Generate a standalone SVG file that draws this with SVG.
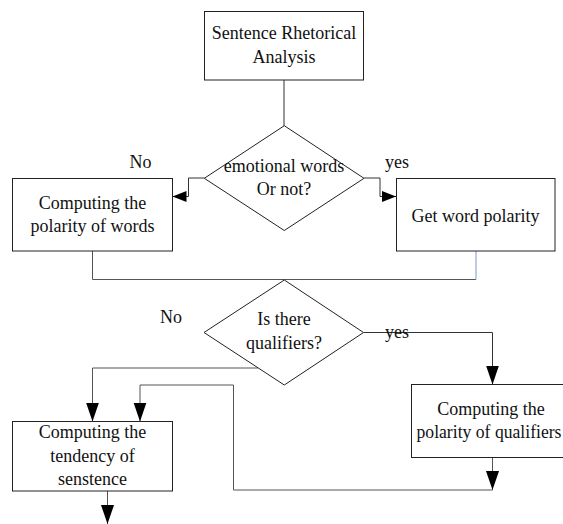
<svg xmlns="http://www.w3.org/2000/svg" width="563" height="524" viewBox="0 0 563 524">
<style>
.box{fill:#fff;stroke:#222;stroke-width:1}
.dia{fill:#fff;stroke:#222;stroke-width:1}
.ln{fill:none;stroke:#333;stroke-width:1}
.ln2{fill:none;stroke:#555;stroke-width:1}
.blue{fill:none;stroke:#7a9ad0;stroke-width:1}
text{font-family:"Liberation Serif","Times New Roman",serif;font-size:18px;fill:#111}
.c{text-anchor:middle}
</style>
<defs>
<marker id="av" markerUnits="userSpaceOnUse" markerWidth="20" markerHeight="14" refX="19" refY="6.5" orient="auto">
<path d="M0,0 L19,6.5 L0,13 z" fill="#000"/>
</marker>
<marker id="ah" markerUnits="userSpaceOnUse" markerWidth="15" markerHeight="12" refX="14" refY="5.5" orient="auto">
<path d="M0,0 L14,5.5 L0,11 z" fill="#000"/>
</marker>
</defs>
<rect width="563" height="524" fill="#fff"/>
<g id="connectors">
<path class="ln" d="M284,80 V126"/>
<path class="ln" d="M204.3,178 H188.5 V196.5 H172.5" marker-end="url(#ah)"/>
<path class="ln" d="M364,178 H380 V196.5 H396" marker-end="url(#ah)"/>
<path class="ln2" d="M92.5,251 V279.5 H476"/>
<path class="blue" d="M476,279.5 V251"/>
<path class="ln" d="M363.5,332.5 H492.5 V384.5" marker-end="url(#av)"/>
<path class="ln2" d="M258,368 H92.5 V421.5" marker-end="url(#av)"/>
<path class="ln2" d="M492.5,457.5 V490" marker-end="url(#av)"/>
<path class="ln2" d="M492.5,490 H233.5 V385 H140 V421.5" marker-end="url(#av)"/>
<path class="ln2" d="M107.5,491 V524" marker-end="url(#av)"/>
</g>
<g id="labels">
<text x="140.5" y="168" class="c">No</text>
<text x="385" y="168">yes</text>
<text x="160" y="322.5">No</text>
<text x="385" y="338">yes</text>
</g>
<g id="n-start">
<rect class="box" x="204.5" y="11.5" width="159" height="68.5"/>
<text x="284" y="39" class="c">Sentence Rhetorical</text>
<text x="284" y="63" class="c">Analysis</text>
</g>
<g id="n-emotional">
<polygon class="dia" points="284.3,125.7 364,178.3 284.3,230.5 204.3,178.3"/>
<text x="284" y="172.3" class="c">emotional words</text>
<text x="284" y="195" class="c">Or not?</text>
</g>
<g id="n-compute-words">
<rect class="box" x="12.5" y="178.5" width="160" height="72.5"/>
<text x="92.5" y="209.3" class="c">Computing the</text>
<text x="92.5" y="231.5" class="c">polarity of words</text>
</g>
<g id="n-get-polarity">
<rect class="box" x="396.5" y="178.5" width="158.5" height="72.5"/>
<text x="475.5" y="221.7" class="c">Get word polarity</text>
</g>
<g id="n-qualifiers">
<polygon class="dia" points="284.3,280 363.5,332.5 284.3,385 204,332.5"/>
<text x="284" y="325" class="c">Is there</text>
<text x="284" y="349" class="c">qualifiers?</text>
</g>
<g id="n-tendency">
<rect class="box" x="12.5" y="421.5" width="160" height="69.5"/>
<text x="92.5" y="438.3" class="c">Computing the</text>
<text x="92.5" y="461.7" class="c">tendency of</text>
<text x="92.5" y="485" class="c">senstence</text>
</g>
<g id="n-compute-qualifiers">
<rect class="box" x="411.5" y="384.5" width="160" height="73"/>
<text x="491" y="415" class="c">Computing the</text>
<text x="416.5" y="438.3" textLength="145" lengthAdjust="spacingAndGlyphs">polarity of qualifiers</text>
</g>
</svg>
